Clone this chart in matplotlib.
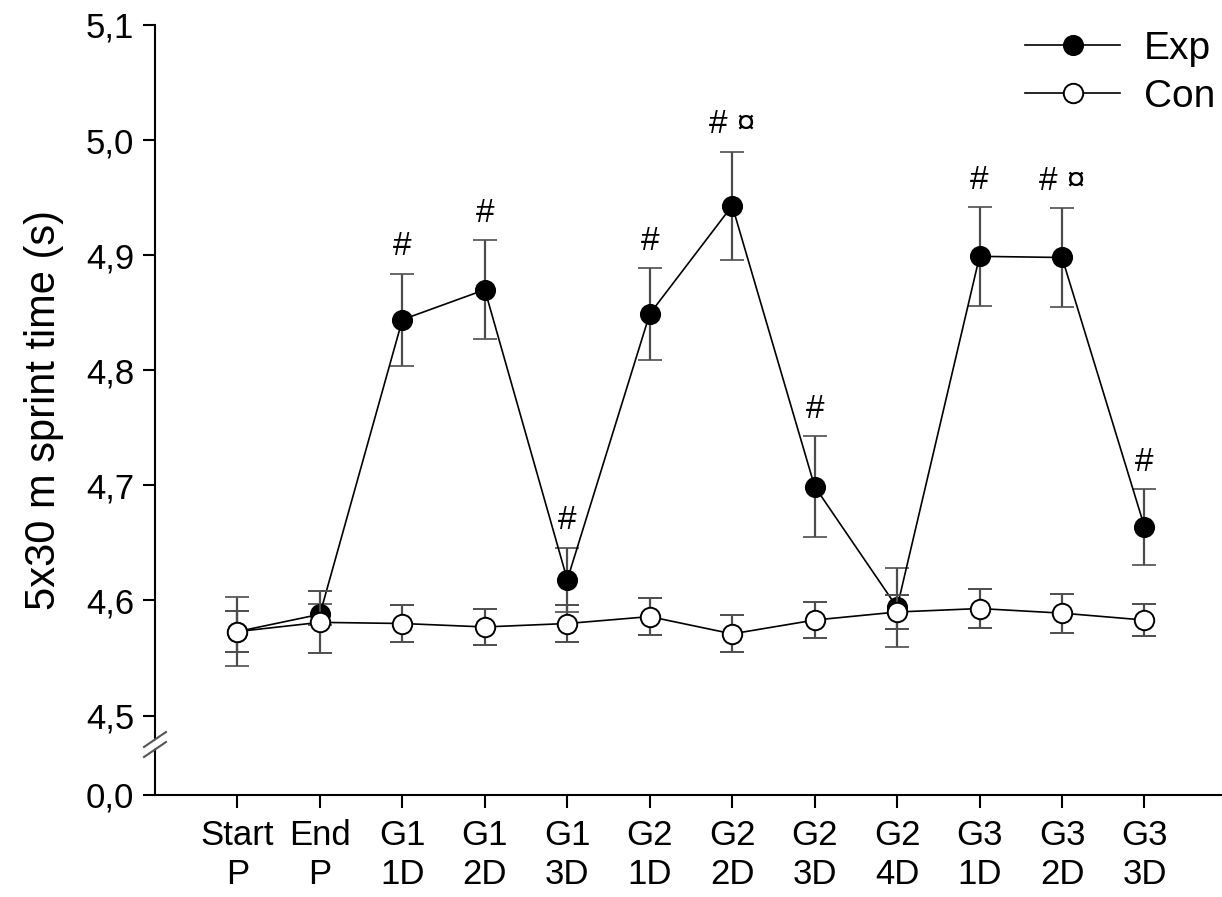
import matplotlib
matplotlib.use("Agg")
import matplotlib.pyplot as plt
from matplotlib.lines import Line2D
from matplotlib.patches import Polygon

plt.rcParams['font.family'] = ['Liberation Sans', 'DejaVu Sans']

categories = ["Start\nP", "End\nP", "G1\n1D", "G1\n2D", "G1\n3D", "G2\n1D", "G2\n2D",
              "G2\n3D", "G2\n4D", "G3\n1D", "G3\n2D", "G3\n3D"]
exp_mean = [4.573, 4.588, 4.844, 4.870, 4.618, 4.849, 4.943, 4.699, 4.594, 4.899, 4.898, 4.664]
exp_err = [0.030, 0.009, 0.040, 0.043, 0.028, 0.040, 0.047, 0.044, 0.034, 0.043, 0.043, 0.033]
con_mean = [4.573, 4.581, 4.580, 4.577, 4.580, 4.586, 4.571, 4.583, 4.590, 4.593, 4.589, 4.583]
con_err = [0.018, 0.027, 0.016, 0.016, 0.016, 0.016, 0.016, 0.016, 0.015, 0.017, 0.017, 0.014]
exp_marks = ["", "", "#", "#", "#", "#", "# ¤", "#", "", "#", "# ¤", "#"]

ytick_vals = [4.5, 4.6, 4.7, 4.8, 4.9, 5.0, 5.1]
ytick_labels = ["4,5", "4,6", "4,7", "4,8", "4,9", "5,0", "5,1"]
zero_label = "0,0"
zero_pos = 4.431  # position on the broken axis where 0,0 is drawn

W, H = 1222, 897
fig = plt.figure(figsize=(W / 100, H / 100), dpi=100)
ax = fig.add_axes([155 / W, 1 - 795 / H, 1 - 155 / W, (795 - 25) / H])

x = list(range(len(categories)))
ecol = '#4d4d4d'
ax.errorbar(x, exp_mean, yerr=exp_err, fmt='-o', color='black', lw=1.2,
            ms=14, mfc='black', mec='black', mew=1.2,
            ecolor=ecol, elinewidth=1.6, capsize=8.5, capthick=1.6, zorder=3)
ax.errorbar(x, con_mean, yerr=con_err, fmt='-o', color='black', lw=1.2,
            ms=14, mfc='white', mec='black', mew=1.4,
            ecolor=ecol, elinewidth=1.6, capsize=8.5, capthick=1.6, zorder=4)

for xi, m, e, t in zip(x, exp_mean, exp_err, exp_marks):
    if t:
        ax.annotate(t, (xi, m + e), xytext=(0, 8), textcoords='offset points',
                    ha='center', va='bottom', fontsize=24)

ax.set_xlim(-1, 11.94)
ax.set_ylim(zero_pos, 5.1)
ax.set_yticks([zero_pos] + ytick_vals)
ax.set_yticklabels([zero_label] + ytick_labels)
ax.set_xticks(x)
ax.set_xticklabels(categories, linespacing=1.25)

for s in ['top', 'right']:
    ax.spines[s].set_visible(False)
for s in ['left', 'bottom']:
    ax.spines[s].set_linewidth(1.5)
ax.tick_params(axis='both', direction='out', length=9, width=1.5, labelsize=25)
ax.tick_params(axis='y', pad=6)
ax.tick_params(axis='x', pad=8)
ax.set_ylabel("5x30 m sprint time (s)", fontsize=30, labelpad=16)

# axis break marks
def fx(px):
    return px / W
def fy(py):
    return 1 - py / H
gap = Polygon([(fx(144), fy(756)), (fx(166), fy(741)), (fx(166), fy(731)), (fx(144), fy(746))],
              closed=True, transform=fig.transFigure, facecolor='white', edgecolor='none', zorder=10)
fig.patches.append(gap)
for dy in (0, 10):
    fig.add_artist(Line2D([fx(144), fx(166)], [fy(757 - dy), fy(742 - dy)],
                          transform=fig.transFigure, color='#555555', lw=1.5, zorder=11))

handles = [
    Line2D([], [], color='black', lw=1.2, marker='o', ms=14, mfc='black', mec='black', mew=1.2),
    Line2D([], [], color='black', lw=1.2, marker='o', ms=14, mfc='white', mec='black', mew=1.4),
]
ax.legend(handles, ['Exp', 'Con'], loc='upper left', bbox_to_anchor=(1025 / W, 1 - 31 / H),
          bbox_transform=fig.transFigure, frameon=False, fontsize=28,
          handlelength=2.45, handletextpad=0.6, labelspacing=0.3, borderaxespad=0.0,
          borderpad=0.0)

fig.savefig("out.png", dpi=100)
